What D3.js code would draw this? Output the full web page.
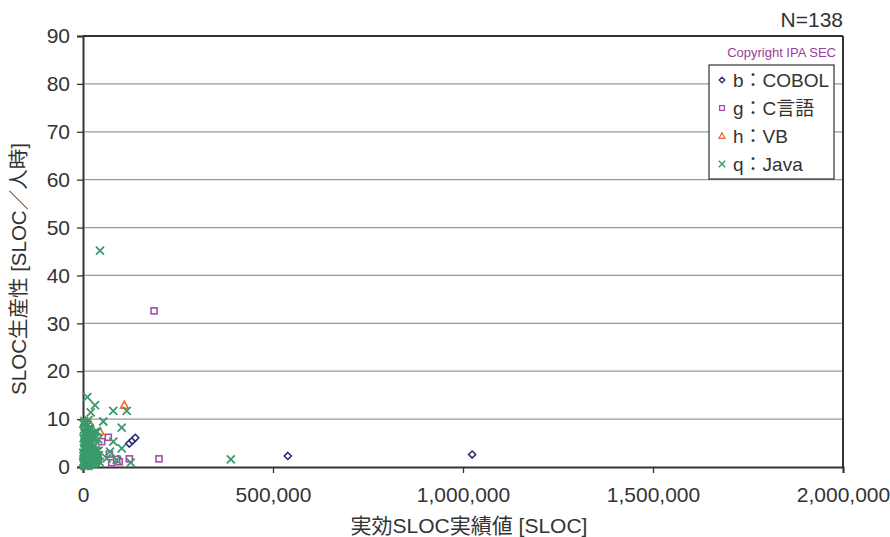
<!DOCTYPE html>
<html><head><meta charset="utf-8">
<script src="https://cdn.jsdelivr.net/npm/d3@7"></script>
<style>
html,body{margin:0;padding:0;background:#fff;}
svg text{font-family:"Liberation Sans","DejaVu Sans","Noto Sans CJK JP",sans-serif;}
</style></head>
<body>
<svg id="chart" width="890" height="537"></svg>
<script>
const xTicks = [0, 500000, 1000000, 1500000, 2000000];
const yTicks = [0, 10, 20, 30, 40, 50, 60, 70, 80, 90];
const seriesNames = ["b：COBOL", "g：C言語", "h：VB", "q：Java"];
const cobol = [[539000,2.3],[1024000,2.6],[121800,4.9],[129700,5.5],[137600,6.1],[92900,1.6],[20000,3.5],[8000,6.8],[35000,1.2],[15000,2.0]];
const cLang = [[187000,32.6],[200000,1.7],[66600,6.2],[49200,5.3],[69200,2.7],[75500,0.9],[95500,1.1],[88700,1.6],[121800,1.7],[25000,4.0],[12000,2.5],[40000,1.5],[5000,8.5]];
const vb = [[108700,12.9],[16600,9.1],[44700,7.4],[5000,3.0],[20000,2.0]];
const java = [[44700,45.2],[11300,14.6],[31600,12.9],[20300,11.4],[79700,11.7],[115000,11.7],[53400,9.5],[101800,8.2],[30800,7.3],[79700,5.3],[101800,3.9],[62400,1.8],[71000,3.2],[88700,1.5],[125500,0.9],[389000,1.6],
[2000,0.5],[3000,1.2],[4000,2.1],[5000,0.8],[6000,3.4],[7000,1.6],[8000,4.8],[9000,2.7],[10000,0.4],[11000,5.6],[12000,1.9],[13000,3.1],[14000,6.9],[15000,0.9],[16000,2.4],[17000,4.2],[18000,1.3],[19000,7.8],[20000,3.6],[21000,0.6],[22000,2.2],[23000,5.1],[24000,1.5],[25000,3.9],[26000,0.7],[27000,6.2],[28000,2.8],[29000,1.1],[30000,4.5],[32000,2.0],[34000,0.8],[36000,3.3],[38000,1.7],[40000,5.8],[42000,2.5],[44000,1.0],
[1500,6.0],[2500,4.0],[3500,7.2],[4500,5.3],[5500,1.7],[6500,8.3],[7500,2.9],[8500,0.3],[9500,6.5],[10500,3.8],[11500,1.4],[12500,8.8],[13500,4.6],[14500,2.6],[15500,5.9],[16500,0.5],[17500,3.0],[18500,6.6],[19500,1.8],[20500,4.9],[22500,7.0],[24500,2.3],[26500,4.1],[28500,0.9],[31000,6.0],[33000,3.6],[35000,1.2],[37000,7.4],[39000,2.4],[41000,3.4],
[1000,9.0],[800,3.0],[600,1.0],[1200,2.2],[2200,7.8],[3200,9.6],[4200,0.2],[5200,6.8],[6200,4.4],[9200,9.2],[14200,9.8],[17200,8.1],
[3800,5.0],[7800,0.6],[10800,2.0],[13800,0.2],[18800,5.4],[23800,3.0],[27800,1.8],[2800,2.8],[6800,5.8],[16800,3.8]];
const colors = ["#2e2d6e", "#a54ea6", "#ef6a2c", "#3a9a6b"];

const svg = d3.select("#chart");
const L = 83, R = 843, T = 36, B = 467;
const x = d3.scaleLinear().domain([0, 2000000]).range([L, R]);
const y = d3.scaleLinear().domain([0, 90]).range([B, T]);

// grid
svg.append("g").selectAll("line").data(yTicks.filter(v => v > 0 && v < 90)).join("line")
  .attr("x1", L).attr("x2", R).attr("y1", d => y(d)).attr("y2", d => y(d))
  .attr("stroke", "#9a9a9a").attr("stroke-width", 1.3);

// frame top/right
svg.append("line").attr("x1", L).attr("x2", R).attr("y1", T).attr("y2", T).attr("stroke", "#333").attr("stroke-width", 2);
svg.append("line").attr("x1", R).attr("x2", R).attr("y1", T).attr("y2", B).attr("stroke", "#333").attr("stroke-width", 2);

// axes
const fmt = d3.format(",");
const xAxis = svg.append("g").attr("transform", `translate(0,${B})`)
  .call(d3.axisBottom(x).tickValues(xTicks).tickFormat(fmt).tickSize(6).tickPadding(14));
const yAxis = svg.append("g").attr("transform", `translate(${L},0)`)
  .call(d3.axisLeft(y).tickValues(yTicks).tickSize(6).tickPadding(7));
[xAxis, yAxis].forEach(g => {
  g.select(".domain").attr("stroke", "#333").attr("stroke-width", 2);
  g.selectAll(".tick line").attr("stroke", "#333").attr("stroke-width", 1.3);
  g.selectAll(".tick text").attr("fill", "#333").style("font-size", "21px");
});

// symbols
function drawMarker(g, type, color) {
  if (type === 0) {
    g.append("path").attr("d", "M0,-3.5L3.5,0L0,3.5L-3.5,0Z").attr("fill", "#fff").attr("stroke", color).attr("stroke-width", 1.6);
  } else if (type === 1) {
    g.append("rect").attr("x", -3).attr("y", -3).attr("width", 6).attr("height", 6).attr("fill", "#fff").attr("stroke", color).attr("stroke-width", 1.6);
  } else if (type === 2) {
    g.append("path").attr("d", "M0,-4L3.8,3L-3.8,3Z").attr("fill", "#fff").attr("stroke", color).attr("stroke-width", 1.6);
  } else {
    g.append("path").attr("d", "M-4,-4L4,4M-4,4L4,-4").attr("fill", "none").attr("stroke", color).attr("stroke-width", 1.8);
  }
}
const allSeries = [cobol, cLang, vb, java];
allSeries.forEach((data, i) => {
  const grp = svg.append("g");
  data.forEach(d => {
    const m = grp.append("g").attr("transform", `translate(${x(d[0])},${y(d[1])})`);
    drawMarker(m, i, colors[i]);
  });
});

// titles
svg.append("text").attr("x", 469).attr("y", 533).attr("text-anchor", "middle")
  .style("font-size", "21px").attr("fill", "#333").text("実効SLOC実績値 [SLOC]");
svg.append("text").attr("transform", "translate(26,269) rotate(-90)").attr("text-anchor", "middle")
  .style("font-size", "20.5px").attr("fill", "#333").text("SLOC生産性 [SLOC／人時]");
svg.append("text").attr("x", 843).attr("y", 27).attr("text-anchor", "end")
  .style("font-size", "21px").attr("fill", "#333").text("N=138");
svg.append("text").attr("x", 836).attr("y", 57).attr("text-anchor", "end")
  .style("font-size", "13px").attr("fill", "#9b3d9b").text("Copyright IPA SEC");

// legend
const lg = svg.append("g");
lg.append("rect").attr("x", 709).attr("y", 65).attr("width", 125).attr("height", 114)
  .attr("fill", "#fff").attr("stroke", "#333").attr("stroke-width", 1.2);
seriesNames.forEach((name, i) => {
  const cy = 80 + i * 28;
  const m = lg.append("g").attr("transform", `translate(722,${cy}) scale(0.8)`);
  drawMarker(m, i, colors[i]);
  lg.append("text").attr("x", 733).attr("y", cy + 7).style("font-size", "19px").attr("fill", "#333").text(name);
});
</script>
</body></html>
